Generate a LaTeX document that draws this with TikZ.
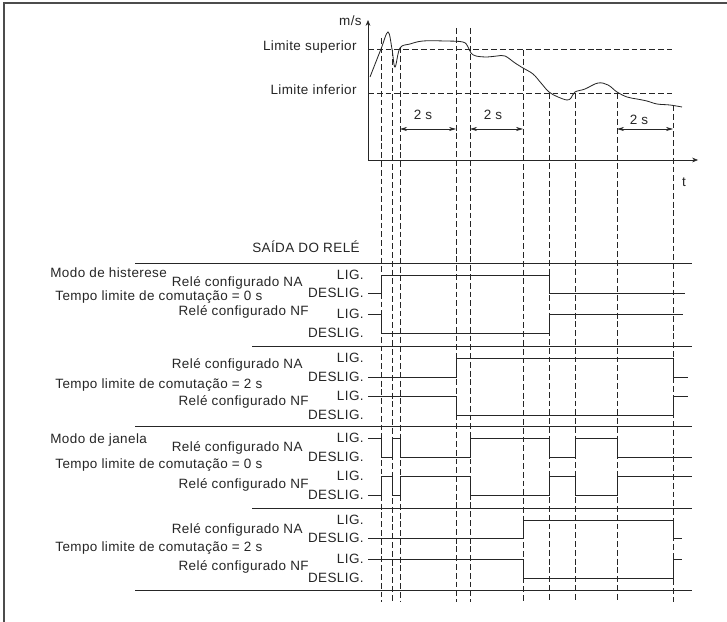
\documentclass[tikz,border=0pt]{standalone}
\usepackage{fontspec}
\setmainfont{Liberation Sans}[LetterSpace=3]
\usetikzlibrary{arrows.meta}

\begin{document}
\begin{tikzpicture}[x=0.03cm, y=-0.03cm, line width=0.6pt, black!85,
  every node/.style={font=\fontsize{11.5}{13}\selectfont, inner sep=0pt, text=black!85},
  tline/.style={dash pattern=on 5pt off 2.5pt, line width=0.6pt},
  sig/.style={line width=0.8pt},
  sep/.style={line width=0.8pt}]
  \useasboundingbox (0,0) rectangle (727,622);
  % frame
  \draw[line width=1.2pt, black!70] (727,3) -- (4,3) -- (4,622);
  % time instants
  \foreach \x/\y in {381/38, 392/50, 400/47, 456/28, 470/28, 523/50, 549/93, 575/93, 617/93, 673/105}
    \draw[tline] (\x,\y) -- (\x,602);
  % speed graph
  \coordinate (o) at (368,160);
  \coordinate (ytop) at (368,20);
  \coordinate (xend) at (698,160);
  \draw[-{Stealth[length=5pt,width=4pt]}] (o) -- (ytop);
  \draw[-{Stealth[length=5pt,width=4pt]}] (o) -- (xend);
  \node[anchor=east] (ms) at (362,21) {m/s};
  \node (tt) at (684,182) {t};
  \draw[tline] (368,49) -- (672,49);
  \draw[tline] (368,93) -- (672,93);
  \node[anchor=east] (lsup) at (357,47) {Limite superior};
  \node[anchor=east] (linf) at (357,90) {Limite inferior};
  \draw[line width=0.7pt] plot[smooth, tension=0.6] coordinates {(370,77) (381,49) (388,32) (392,49) (395,67) (400,48) (410,44) (423,41) (445,41) (463,42) (468,47) (471,53) (476,56) (487,57) (497,56) (505,56) (515,63) (523,68) (533,74) (541,83) (549,92) (558,97) (567,100) (571,98) (575,92) (585,89) (598,83) (608,85) (617,92) (627,97) (637,99) (647,101) (657,104) (670,105) (682,107)};
  % 2 s intervals
  \coordinate (a1) at (400,129);
  \coordinate (b1) at (456,129);
  \coordinate (a2) at (470,129);
  \coordinate (b2) at (523,129);
  \coordinate (a3) at (617,129);
  \coordinate (b3) at (673,129);
  \draw[{Stealth[length=6pt,width=3.5pt]}-{Stealth[length=6pt,width=3.5pt]}] (a1) -- (b1);
  \draw[{Stealth[length=6pt,width=3.5pt]}-{Stealth[length=6pt,width=3.5pt]}] (a2) -- (b2);
  \draw[{Stealth[length=6pt,width=3.5pt]}-{Stealth[length=6pt,width=3.5pt]}] (a3) -- (b3);
  \node (d1) at (423,115) {2 s};
  \node (d2) at (493,115) {2 s};
  \node (d3) at (639,120) {2 s};
  % relay output
  \node[anchor=east] (saida) at (360,247) {SAÍDA DO RELÉ};
  \draw[sep] (135,263) -- (692,263);
  \draw[sep] (252,346) -- (692,346);
  \draw[sep] (135,426) -- (692,426);
  \draw[sep] (252,508) -- (692,508);
  \draw[sep] (135,590) -- (692,590);
  % block labels
  \node[anchor=west] (histM) at (50,273) {Modo de histerese};
  \node[anchor=west] (histT0) at (55,297) {Tempo limite de comutação = 0 s};
  \node[anchor=west] (histT2) at (55,385) {Tempo limite de comutação = 2 s};
  \node[anchor=west] (janM) at (50,440) {Modo de janela};
  \node[anchor=west] (janT0) at (55,465) {Tempo limite de comutação = 0 s};
  \node[anchor=west] (janT2) at (55,548) {Tempo limite de comutação = 2 s};
  \foreach \n/\y in {1/283, 2/365, 3/448, 4/530}
    \node[anchor=east] (na\n) at (303,\y) {Relé configurado NA};
  \foreach \n/\y in {1/312, 2/402, 3/485, 4/567}
    \node[anchor=east] (nf\n) at (309,\y) {Relé configurado NF};
  \foreach \n/\hi/\lo in {1/275/293, 2/314/333, 3/358/377, 4/396/415, 5/438/457, 6/476/495, 7/520/538, 8/559/578} {
    \node[anchor=east] (lig\n) at (364,\hi) {LIG.};
    \node[anchor=east] (des\n) at (364,\lo) {DESLIG.};
  }
  % signals
  \draw[sig] (368,293) -- (381,293) -- (381,275) -- (549,275) -- (549,293) -- (685,293);
  \draw[sig] (368,314) -- (381,314) -- (381,333) -- (549,333) -- (549,314) -- (683,314);
  \draw[sig] (368,377) -- (456,377) -- (456,358) -- (673,358) -- (673,377) -- (688,377);
  \draw[sig] (368,396) -- (456,396) -- (456,415) -- (673,415) -- (673,396) -- (688,396);
  \draw[sig] (368,438) -- (381,438) -- (381,457) -- (392,457) -- (392,438) -- (400,438) -- (400,457) -- (470,457) -- (470,438) -- (549,438) -- (549,457) -- (575,457) -- (575,438) -- (617,438) -- (617,457) -- (692,457);
  \draw[sig] (368,495) -- (381,495) -- (381,476) -- (392,476) -- (392,495) -- (400,495) -- (400,476) -- (470,476) -- (470,495) -- (549,495) -- (549,476) -- (575,476) -- (575,495) -- (617,495) -- (617,476) -- (692,476);
  \draw[sig] (368,538) -- (523,538) -- (523,520) -- (673,520) -- (673,538) -- (682,538);
  \draw[sig] (368,559) -- (523,559) -- (523,578) -- (673,578) -- (673,559) -- (682,559);
\end{tikzpicture}
\end{document}
